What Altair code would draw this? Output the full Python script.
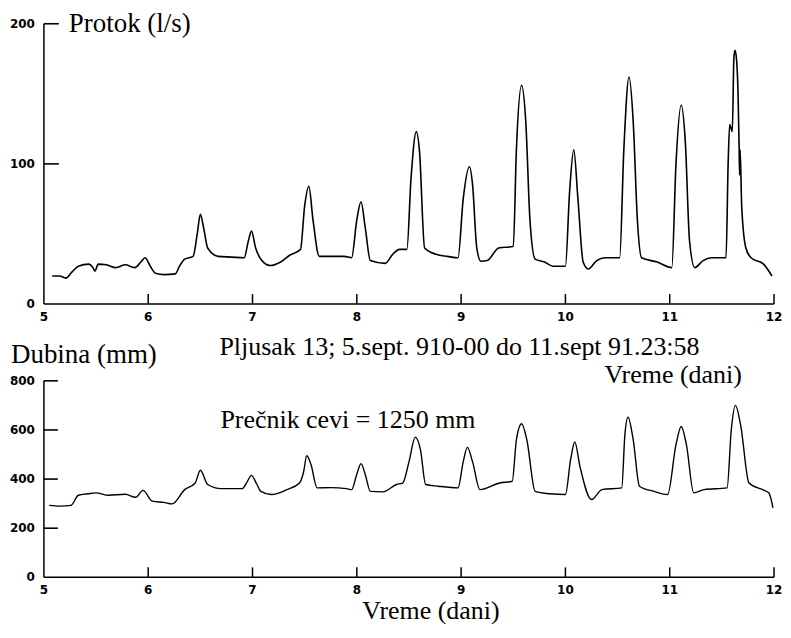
import altair as alt
import pandas as pd

# ---- data ----
x_ticks = [5, 6, 7, 8, 9, 10, 11, 12]
flow_ticks = [0, 100, 200]
depth_ticks = [0, 200, 400, 600, 800]

flow_day = [5.08, 5.15, 5.21, 5.27, 5.33, 5.43, 5.47, 5.49, 5.52, 5.60, 5.69, 5.78, 5.87, 5.93, 5.97,
            6.02, 6.07, 6.15, 6.26, 6.30, 6.35, 6.43, 6.47, 6.50, 6.53, 6.57, 6.67, 6.80, 6.92, 6.96,
            6.99, 7.03, 7.08, 7.17, 7.27, 7.36, 7.46, 7.50, 7.54, 7.58, 7.64, 7.75, 7.88, 7.95, 8.00,
            8.04, 8.08, 8.13, 8.27, 8.35, 8.41, 8.48, 8.52, 8.57, 8.60, 8.65, 8.76, 8.87, 8.97, 9.02,
            9.08, 9.11, 9.15, 9.19, 9.25, 9.36, 9.50, 9.53, 9.58, 9.62, 9.66, 9.71, 9.80, 9.88, 10.00,
            10.04, 10.08, 10.12, 10.17, 10.22, 10.30, 10.38, 10.52, 10.56, 10.61, 10.65, 10.69, 10.73,
            10.88, 11.02, 11.06, 11.11, 11.15, 11.19, 11.24, 11.32, 11.40, 11.54, 11.56, 11.575, 11.59,
            11.60, 11.615, 11.625, 11.64, 11.655, 11.665, 11.67, 11.675, 11.69, 11.73, 11.78, 11.90, 11.98]
flow_val = [20, 20, 18.5, 23, 27, 28.5, 26, 23.5, 28.5, 28, 26, 28, 26, 30, 33,
            27, 22, 21, 21.5, 27, 32, 34, 50, 64, 55, 40, 34, 33.5, 33, 45,
            52, 40, 32, 27.5, 30, 35, 39, 70, 84, 60, 34, 34, 34, 33, 60,
            73, 55, 31, 29, 36, 39, 39, 90, 123, 110, 40, 35.5, 34, 33, 75,
            98, 85, 40, 30.5, 31, 40, 41, 110, 156, 130, 60, 32, 30, 27, 27,
            80, 110, 75, 30, 25, 31, 33, 33, 110, 162, 130, 60, 33,
            30, 26, 100, 142, 115, 45, 26, 31, 33, 33, 100, 128, 125,
            123, 175, 181, 175, 150, 114, 92, 110, 70, 40, 33, 28.5, 20]

depth_day = [5.05, 5.15, 5.26, 5.33, 5.42, 5.50, 5.62, 5.78, 5.88, 5.95, 6.04, 6.15, 6.23, 6.35, 6.45,
             6.50, 6.57, 6.70, 6.90, 6.95, 6.99, 7.04, 7.08, 7.18, 7.33, 7.45, 7.49, 7.52, 7.56, 7.62,
             7.75, 7.90, 7.95, 8.00, 8.04, 8.08, 8.13, 8.25, 8.38, 8.44, 8.50, 8.56, 8.61, 8.66, 8.78,
             8.97, 9.02, 9.06, 9.11, 9.18, 9.37, 9.49, 9.53, 9.58, 9.63, 9.71, 9.85, 10.00, 10.05, 10.09,
             10.14, 10.25, 10.35, 10.54, 10.57, 10.60, 10.65, 10.71, 10.85, 10.98, 11.06, 11.11, 11.16,
             11.23, 11.33, 11.55, 11.59, 11.63, 11.68, 11.76, 11.90, 11.95, 11.99]
depth_val = [293, 290, 293, 334, 340, 344, 334, 338, 326, 354, 310, 305, 299, 357, 384,
             436, 378, 361, 361, 390, 415, 380, 350, 337, 357, 384, 430, 495, 460, 364,
             365, 361, 357, 420, 463, 420, 350, 348, 378, 384, 470, 571, 520, 378, 371,
             364, 470, 529, 470, 357, 384, 391, 560, 625, 560, 350, 340, 337, 480, 551,
             450, 317, 357, 364, 580, 652, 560, 371, 350, 337, 540, 614, 540,
             344, 357, 364, 600, 700, 620, 384, 355, 344, 283]

flow_df = pd.DataFrame({"day": flow_day, "q": flow_val})
depth_df = pd.DataFrame({"day": depth_day, "h": depth_val})

W, H1, H2 = 732, 281, 197
SERIF = "Liberation Serif"
SANS = "DejaVu Sans"
X0, X1 = x_ticks[0], x_ticks[-1]
DAY_PX = W / (X1 - X0)

xscale = alt.Scale(domain=[X0, X1], nice=False, zero=False)


def text(label, x, y, size=26, align="left"):
    return alt.Chart(pd.DataFrame({"t": [label]})).mark_text(
        font=SERIF, fontSize=size, align=align, baseline="middle", color="black"
    ).encode(x=alt.value(x), y=alt.value(y), text="t:N")


def axis_layers(yscale, yvals, h, ytick_len):
    """Axis lines, labels and inward-pointing ticks, drawn as marks on the shared scales."""
    ymin, ymax = yvals[0], yvals[-1]
    up = 10 / h * (ymax - ymin)      # 10 px upward tick, in y units
    right = X0 + ytick_len / DAY_PX  # tick length to the right, in day units
    X = lambda f: alt.X(f, scale=xscale, axis=None)
    Y = lambda f: alt.Y(f, scale=yscale, axis=None)

    x_dom = alt.Chart(pd.DataFrame({"a": [X0], "b": [X1], "lo": [ymin]})).mark_rule(
        color="black", strokeWidth=1.5).encode(x=X("a:Q"), x2="b:Q", y=Y("lo:Q"))
    y_dom = alt.Chart(pd.DataFrame({"a": [X0], "lo": [ymin], "hi": [ymax]})).mark_rule(
        color="black", strokeWidth=1.5).encode(x=X("a:Q"), y=Y("lo:Q"), y2="hi:Q")
    n_x = len(x_ticks) - 1
    x_tk = alt.Chart(pd.DataFrame({"a": x_ticks[1:], "lo": [ymin] * n_x,
                                   "hi": [ymin + up] * n_x})).mark_rule(
        color="black", strokeWidth=1.5).encode(x=X("a:Q"), y=Y("lo:Q"), y2="hi:Q")
    n_y = len(yvals) - 1
    y_tk = alt.Chart(pd.DataFrame({"a": [X0] * n_y, "b": [right] * n_y,
                                   "lo": yvals[1:]})).mark_rule(
        color="black", strokeWidth=1.6).encode(x=X("a:Q"), x2="b:Q", y=Y("lo:Q"))
    x_lab = alt.Chart(pd.DataFrame({"d": x_ticks, "lo": [ymin] * len(x_ticks)})).mark_text(
        font=SANS, fontWeight="bold", fontSize=12, color="black", align="center",
        baseline="middle", dy=13).encode(x=X("d:Q"), y=Y("lo:Q"), text=alt.Text("d:Q", format="d"))
    y_lab = alt.Chart(pd.DataFrame({"v": yvals, "a": [X0] * len(yvals)})).mark_text(
        font=SANS, fontWeight="bold", fontSize=12, color="black", align="right",
        baseline="middle", dx=-9).encode(x=X("a:Q"), y=Y("v:Q"), text=alt.Text("v:Q", format="d"))
    return [x_dom, y_dom, x_lab, y_lab, x_tk, y_tk]


# ---- top panel: flow ----
fscale = alt.Scale(domain=[flow_ticks[0], flow_ticks[-1]], nice=False)
top_line = alt.Chart(flow_df).mark_line(color="black", strokeWidth=1.6, interpolate="monotone").encode(
    x=alt.X("day:Q", scale=xscale, axis=None),
    y=alt.Y("q:Q", scale=fscale, axis=None),
)
top = alt.layer(
    top_line, *axis_layers(fscale, flow_ticks, H1, 15),
    text("Protok (l/s)", 25, 0, 27),
).properties(width=W, height=H1)

# ---- bottom panel: depth ----
dscale = alt.Scale(domain=[depth_ticks[0], depth_ticks[-1]], nice=False)
bot_line = alt.Chart(depth_df).mark_line(color="black", strokeWidth=1.4, interpolate="monotone").encode(
    x=alt.X("day:Q", scale=xscale, axis=None),
    y=alt.Y("h:Q", scale=dscale, axis=None),
)
bottom = alt.layer(
    bot_line, *axis_layers(dscale, depth_ticks, H2, 14),
    text("Dubina (mm)", -33, -26, 27),
    text("Pljusak 13; 5.sept. 910-00 do 11.sept 91.23:58", 176, -34),
    text("Vreme (dani)", 562, -6),
    text("Prečnik cevi = 1250 mm", 177, 39),
    text("Vreme  (dani)", 388, 231, 26, "center"),
).properties(width=W, height=H2)

chart = alt.vconcat(top, bottom, spacing=77, bounds="flush").properties(
    padding={"left": 1, "top": 1, "right": 0, "bottom": -1}
).configure_view(stroke=None)

chart.save("out.html", embed_options={"renderer": "svg", "actions": False})
